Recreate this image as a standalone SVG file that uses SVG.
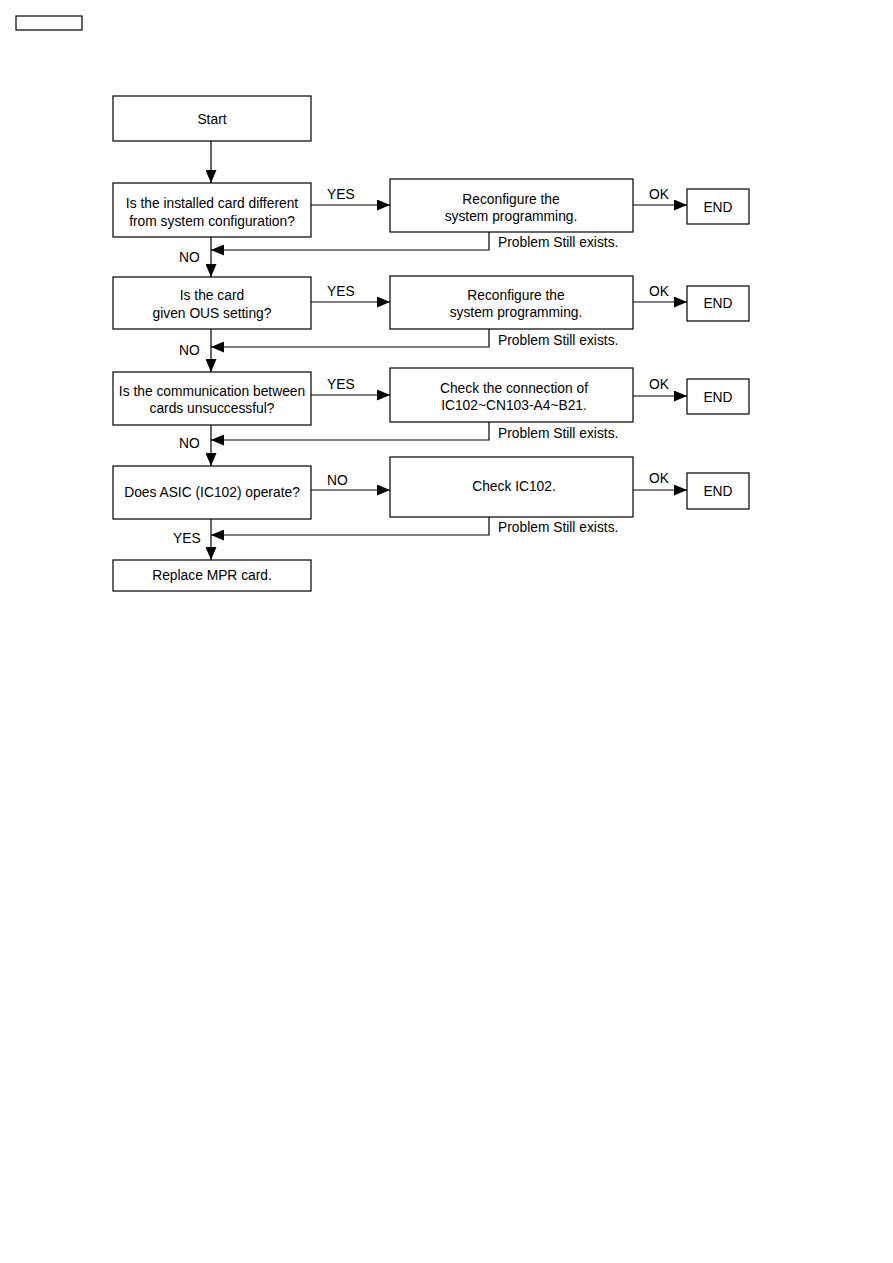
<svg xmlns="http://www.w3.org/2000/svg" width="893" height="1263" viewBox="0 0 893 1263">
<style>
rect{fill:#fff;stroke:#000;stroke-width:1.2}
text{font-family:"Liberation Sans",Arial,sans-serif;font-size:13.8px;fill:#000}
.c{text-anchor:middle}
.ln{fill:none;stroke:#000;stroke-width:1.2}
</style>
<defs>
<marker id="ah" viewBox="0 0 13 11" refX="13" refY="5.5" markerWidth="13" markerHeight="11" markerUnits="userSpaceOnUse" orient="auto">
<path d="M0,0 L13,5.5 L0,11 Z" fill="#000"/>
</marker>
</defs>
<rect x="16" y="16" width="66" height="14"/>
<g id="start"><rect x="113" y="96" width="198" height="45"/><text class="c" x="212" y="124">Start</text></g>
<g id="q1"><rect x="113" y="183" width="198" height="54"/><text class="c" x="212" y="208">Is the installed card different</text><text class="c" x="212" y="226">from system configuration?</text></g>
<g id="a1"><rect x="390" y="179" width="243" height="53"/><text class="c" x="511" y="204">Reconfigure the</text><text class="c" x="511" y="221">system programming.</text></g>
<g id="e1"><rect x="687" y="189" width="62" height="35"/><text class="c" x="718" y="212">END</text></g>
<g id="q2"><rect x="113" y="277" width="198" height="52"/><text class="c" x="212" y="300">Is the card</text><text class="c" x="212" y="318">given OUS setting?</text></g>
<g id="a2"><rect x="390" y="276" width="243" height="53"/><text class="c" x="516" y="300">Reconfigure the</text><text class="c" x="516" y="317">system programming.</text></g>
<g id="e2"><rect x="687" y="286" width="62" height="35"/><text class="c" x="718" y="308">END</text></g>
<g id="q3"><rect x="113" y="372" width="198" height="53"/><text class="c" x="212" y="396">Is the communication between</text><text class="c" x="212" y="413">cards unsuccessful?</text></g>
<g id="a3"><rect x="390" y="368" width="243" height="54"/><text class="c" x="514" y="393">Check the connection of</text><text class="c" x="514" y="410">IC102~CN103-A4~B21.</text></g>
<g id="e3"><rect x="687" y="379" width="62" height="35"/><text class="c" x="718" y="402">END</text></g>
<g id="q4"><rect x="113" y="466" width="198" height="53"/><text class="c" x="212" y="497">Does ASIC (IC102) operate?</text></g>
<g id="a4"><rect x="390" y="457" width="243" height="60"/><text class="c" x="514" y="491">Check IC102.</text></g>
<g id="e4"><rect x="687" y="473" width="62" height="36"/><text class="c" x="718" y="496">END</text></g>
<g id="r"><rect x="113" y="560" width="198" height="31"/><text class="c" x="212" y="580">Replace MPR card.</text></g>
<g id="connectors">
<path class="ln" d="M211,141 V183" marker-end="url(#ah)"/>
<path class="ln" d="M311,205 H390" marker-end="url(#ah)"/>
<path class="ln" d="M633,205 H687" marker-end="url(#ah)"/>
<path class="ln" d="M489,232 V250 H211" marker-end="url(#ah)"/>
<path class="ln" d="M211,237 V277" marker-end="url(#ah)"/>
<path class="ln" d="M311,302 H390" marker-end="url(#ah)"/>
<path class="ln" d="M633,302 H687" marker-end="url(#ah)"/>
<path class="ln" d="M489,329 V347 H211" marker-end="url(#ah)"/>
<path class="ln" d="M211,329 V372" marker-end="url(#ah)"/>
<path class="ln" d="M311,395 H390" marker-end="url(#ah)"/>
<path class="ln" d="M633,396 H687" marker-end="url(#ah)"/>
<path class="ln" d="M489,422 V440 H211" marker-end="url(#ah)"/>
<path class="ln" d="M211,425 V466" marker-end="url(#ah)"/>
<path class="ln" d="M311,490 H390" marker-end="url(#ah)"/>
<path class="ln" d="M633,490 H687" marker-end="url(#ah)"/>
<path class="ln" d="M489,517 V535 H211" marker-end="url(#ah)"/>
<path class="ln" d="M211,519 V560" marker-end="url(#ah)"/>
<text x="327" y="199">YES</text>
<text x="649" y="199">OK</text>
<text x="498" y="247">Problem Still exists.</text>
<text x="179" y="262">NO</text>
<text x="327" y="296">YES</text>
<text x="649" y="296">OK</text>
<text x="498" y="345">Problem Still exists.</text>
<text x="179" y="355">NO</text>
<text x="327" y="389">YES</text>
<text x="649" y="389">OK</text>
<text x="498" y="438">Problem Still exists.</text>
<text x="179" y="448">NO</text>
<text x="327" y="485">NO</text>
<text x="649" y="483">OK</text>
<text x="498" y="532">Problem Still exists.</text>
<text x="173" y="543">YES</text>
</g>
</svg>
